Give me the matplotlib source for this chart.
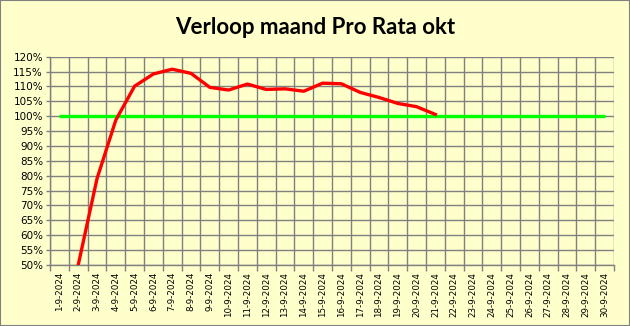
import numpy as np
import matplotlib.pyplot as plt
from matplotlib.ticker import FixedLocator, PercentFormatter

# dagen van september 2024
dagen = ["%d-9-2024" % d for d in range(1, 31)]

# pro rata verloop (None = nog geen waarde)
pro_rata = [None, 0.500, 0.790, 0.987, 1.101, 1.142, 1.158, 1.144, 1.097,
            1.088, 1.108, 1.090, 1.092, 1.084, 1.111, 1.109, 1.080, 1.063,
            1.043, 1.032, 1.006] + [None] * 9
doel = [1.0] * 30

geel = "#FFFFCC"
grijs = "#808080"

fig = plt.figure(figsize=(6.3, 3.26), dpi=100, facecolor=geel)
fig.patches.append(plt.Rectangle((0, 0), 1, 1, transform=fig.transFigure,
                                 fill=False, edgecolor=grijs, linewidth=1.5))
ax = fig.add_axes([50 / 630, 61 / 326, 564 / 630, 208.3 / 326], facecolor=geel)

x = np.arange(len(dagen))
y = np.array([np.nan if v is None else v for v in pro_rata])
ax.plot(x, doel, color="#00FF00", linewidth=2.4, solid_capstyle="butt", zorder=3)
ax.plot(x, y, color="#FF0000", linewidth=2.4, solid_joinstyle="round", zorder=4)

ax.set_xlim(-0.5, len(dagen) - 0.5)
ax.set_ylim(0.5, 1.2)

# verticale rasterlijnen tussen de dagen, labels in het midden
ax.xaxis.set_major_locator(FixedLocator(np.arange(-0.5, len(dagen), 1)))
ax.xaxis.set_major_formatter(plt.NullFormatter())
ax.xaxis.set_minor_locator(FixedLocator(x))
ax.set_xticklabels(dagen, minor=True, rotation=90, fontsize=6.3)
ax.tick_params(axis="x", which="major", length=4, color=grijs, width=1)
ax.tick_params(axis="x", which="minor", length=0, pad=5)

ax.set_yticks(np.arange(0.5, 1.2001, 0.05))
ax.yaxis.set_major_formatter(PercentFormatter(1.0, decimals=0))
ax.tick_params(axis="y", length=3, color=grijs, width=1, labelsize=7.5, pad=2)

ax.grid(True, which="major", color=grijs, linewidth=1)
for s in ["top", "right"]:
    ax.spines[s].set_visible(False)
for s in ["left", "bottom"]:
    ax.spines[s].set_color(grijs)
    ax.spines[s].set_linewidth(1)

fig.text(0.5, 1 - 27 / 326, "Verloop maand Pro Rata okt", ha="center", va="center",
         fontsize=16, fontweight="bold", family="Lato")

fig.savefig("out.png", dpi=100, facecolor=geel)
